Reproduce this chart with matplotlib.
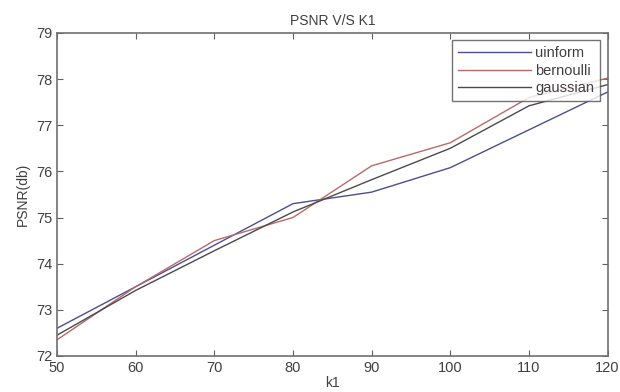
import numpy as np
from matplotlib import pyplot as plt

plt.rcParams['font.family'] = ['Liberation Sans', 'DejaVu Sans']

k1 = [50, 60, 70, 80, 90, 100, 110, 120]
uinform = [72.6, 73.5, 74.4, 75.3, 75.55, 76.08, 76.9, 77.72]
bernoulli = [72.35, 73.5, 74.5, 75.0, 76.12, 76.62, 77.6, 78.02]
gaussian = [72.45, 73.42, 74.28, 75.12, 75.82, 76.5, 77.42, 77.88]

fig = plt.figure(figsize=(6.2, 3.92), dpi=100)
ax = fig.add_axes([0.092, 0.092, 0.888, 0.824])

ax.plot(k1, uinform, color='#4b4f8f', lw=1.0, label='uinform')
ax.plot(k1, bernoulli, color='#b86a6a', lw=1.0, label='bernoulli')
ax.plot(k1, gaussian, color='#4a4a4a', lw=1.0, label='gaussian')

ax.set_xlim(50, 120)
ax.set_ylim(72, 79)
ax.set_xticks(np.arange(50, 121, 10))
ax.set_yticks(np.arange(72, 80, 1))

txt = '#404040'
ax.tick_params(direction='in', top=True, right=True, length=4, colors='#606060',
               labelcolor=txt, labelsize=10.5)
for s in ax.spines.values():
    s.set_color('#707070')
    s.set_linewidth(1.2)

ax.set_title('PSNR V/S K1', fontsize=10, color=txt, pad=6)
ax.set_xlabel('k1', fontsize=10, color=txt, labelpad=1)
ax.set_ylabel('PSNR(db)', fontsize=10, color=txt, labelpad=4)

leg = ax.legend(loc='upper right', fontsize=10.5, frameon=True, fancybox=False,
                borderaxespad=0.5, handlelength=5, labelspacing=0.25,
                borderpad=0.4, handletextpad=0.3)
leg.get_frame().set_edgecolor('#505050')
leg.get_frame().set_linewidth(1.0)
for t in leg.get_texts():
    t.set_color(txt)

plt.savefig('out.png', dpi=100)
